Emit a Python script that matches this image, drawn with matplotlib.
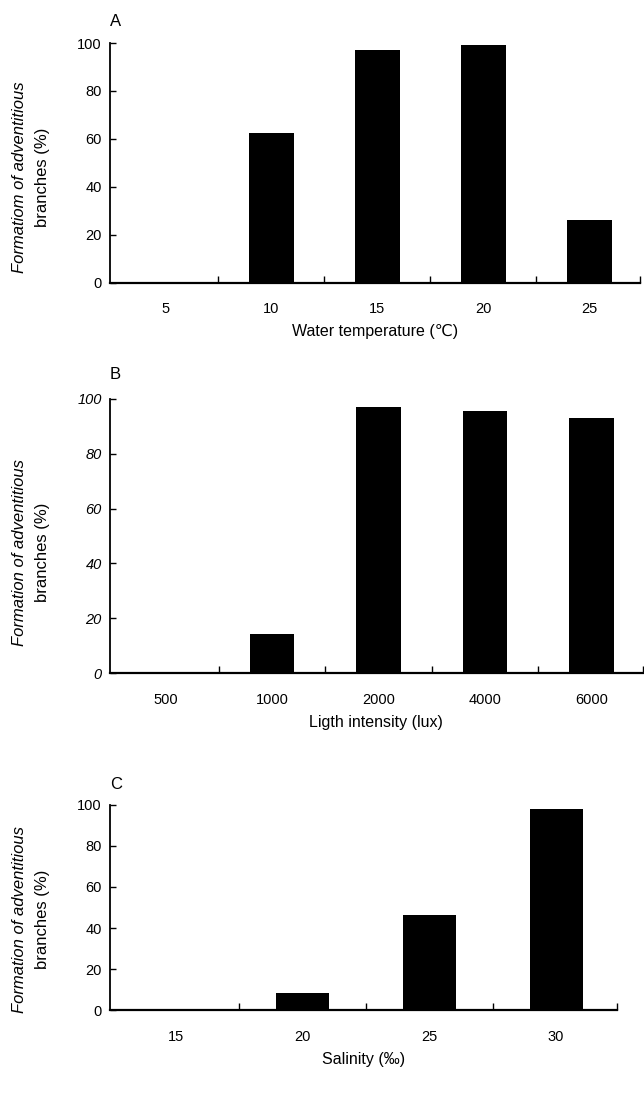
import matplotlib
matplotlib.use("Agg")
import matplotlib.pyplot as plt
import matplotlib.transforms as mtransforms
import numpy as np

plt.rcParams['font.family'] = ['Liberation Sans', 'DejaVu Sans']

# panel A - water temperature
temp_labels = ["5", "10", "15", "20", "25"]
temp_values = [0, 62.5, 97, 99, 26]

# panel B - light intensity
light_labels = ["500", "1000", "2000", "4000", "6000"]
light_values = [0, 14.5, 97, 95.5, 93]

# panel C - salinity
sal_labels = ["15", "20", "25", "30"]
sal_values = [0, 8.5, 46.5, 98]

yticks = [0, 20, 40, 60, 80, 100]


def draw_panel(fig, ax, labels, values, xlabel, ylabel_top, letter, italic_ticks=False):
    x = np.arange(len(labels))
    ax.bar(x, values, width=0.42, color="black")
    ax.set_xlim(-0.52, len(labels) - 0.52)
    ax.set_ylim(0, 100)
    for s in ["top", "right"]:
        ax.spines[s].set_visible(False)
    ax.spines["left"].set_linewidth(1.3)
    ax.spines["bottom"].set_linewidth(1.6)

    # tick marks between categories, labels at centres
    ax.set_xticks(list(x[:-1] + 0.5) + [len(labels) - 0.52])
    ax.set_xticklabels([])
    ax.set_xticks(x, minor=True)
    ax.set_xticklabels(labels, minor=True, fontsize=10.5)
    ax.tick_params(axis="x", which="major", direction="in", length=5, width=1)
    ax.tick_params(axis="x", which="minor", length=0, pad=14)

    ax.set_yticks(yticks)
    ax.set_yticklabels([str(v) for v in yticks], fontsize=10.5,
                       style="italic" if italic_ticks else "normal")
    ax.tick_params(axis="y", direction="in", length=4, width=1, pad=6)

    ax.set_xlabel(xlabel, fontsize=11.5, labelpad=6)

    # two-line y label: italic first line, upright second line
    trans = mtransforms.blended_transform_factory(fig.transFigure, ax.transAxes)
    ax.text(20 / 644, 0.44, ylabel_top, transform=trans, rotation=90,
            ha="center", va="center", fontsize=12, style="italic")
    ax.text(42 / 644, 0.44, "branches (%)", transform=trans, rotation=90,
            ha="center", va="center", fontsize=12)
    ax.text(0.0, 1.06, letter, transform=ax.transAxes, fontsize=12,
            ha="left", va="bottom")


fig = plt.figure(figsize=(6.44, 11.04), dpi=100)
axA = fig.add_axes([0.171, 0.744, 0.823, 0.217])
axB = fig.add_axes([0.171, 0.390, 0.827, 0.249])
axC = fig.add_axes([0.171, 0.085, 0.787, 0.186])

draw_panel(fig, axA, temp_labels, temp_values, "Water temperature (\u2103)",
           "Formatiom of adventitious", "A")
draw_panel(fig, axB, light_labels, light_values, "Ligth intensity (lux)",
           "Formation of adventitious", "B", italic_ticks=True)
draw_panel(fig, axC, sal_labels, sal_values, "Salinity (\u2030)",
           "Formation of adventitious", "C")

fig.savefig("out.png", dpi=100)
